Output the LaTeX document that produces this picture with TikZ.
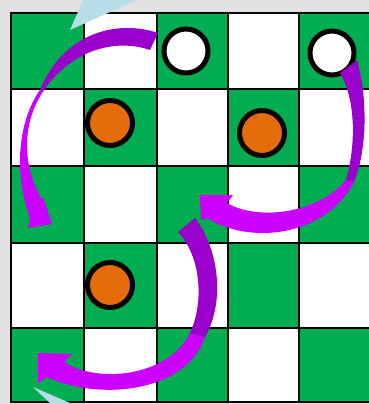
\documentclass[tikz,border=0pt]{standalone}
\definecolor{bg}{RGB}{226,226,226}
\definecolor{sqgreen}{RGB}{0,173,80}
\definecolor{pieceorange}{RGB}{228,108,10}
\definecolor{arrowdark}{RGB}{153,0,204}
\definecolor{arrowbright}{RGB}{204,0,255}
\definecolor{hintblue}{RGB}{183,222,232}
\begin{document}
\begin{tikzpicture}[x=1pt,y=-1pt,
  gridline/.style={line width=2.6pt, black},
  piece/.style={circle, draw=black, line width=5pt, minimum size=44pt, inner sep=0pt},
  whitepiece/.style={piece, fill=white},
  orangepiece/.style={piece, fill=pieceorange, minimum size=45pt},
  darkpart/.style={fill=arrowdark},
  brightpart/.style={fill=arrowbright},
  hint/.style={fill=hintblue}]
\useasboundingbox (0,0) rectangle (369,404);
\fill[bg] (0,0) rectangle (369,404);
% board
\fill[white] (11,13) rectangle (372,402);
\foreach \xa/\xb/\ya/\yb in {
  11/84/13/89, 157/228/13/89, 299/372/13/89,
  84/157/89/166, 228/299/89/166,
  11/84/166/243, 157/228/166/243, 299/372/166/243,
  84/157/243/328, 228/299/243/328,
  11/84/328/402, 157/228/328/402, 299/372/328/402}
  \fill[sqgreen] (\xa,\ya) rectangle (\xb,\yb);
\foreach \x in {84,157,228,299}
  \draw[gridline] (\x,13) -- (\x,402);
\foreach \y in {89,166,243,328}
  \draw[gridline] (11,\y) -- (372,\y);
\draw[gridline] (11,13) rectangle (372,402);
% pieces
\node[whitepiece] (w1) at (186,51) {};
\node[whitepiece] (w2) at (332,53) {};
\node[orangepiece] (o1) at (110,123) {};
\node[orangepiece] (o2) at (262,133) {};
\node[orangepiece] (o3) at (110,285) {};
% light blue hints
\fill[hint] (70,30) -- (84,-2) -- (141,-2) -- cycle;
\fill[hint] (33,387) -- (53,406) -- (77,406) -- cycle;
% arrow 1
\fill[darkpart] (158,33) .. controls (120,20) and (65,30) .. (40,90)
  -- (42,93) .. controls (70,50) and (115,38) .. (150,50) -- cycle;
\fill[brightpart] (40,90) .. controls (20,118) and (12,168) .. (30,218)
  -- (28,228) -- (52,224) -- (43,197) -- (42,200)
  .. controls (22,165) and (22,125) .. (42,93) -- cycle;
% arrow 2
\fill[darkpart] (340,73) -- (357,60) .. controls (368,100) and (367,150) .. (354,182)
  -- (346,180) .. controls (356,145) and (356,100) .. (340,73) -- cycle;
\fill[brightpart] (354,182) .. controls (325,237) and (250,245) .. (207,218)
  -- (201,220) -- (200,195) -- (233,195) -- (227,203)
  .. controls (260,222) and (320,212) .. (346,180) -- cycle;
% arrow 3
\fill[darkpart] (178,232) -- (195,218) .. controls (218,248) and (226,300) .. (205,337)
  -- (190,333) .. controls (205,300) and (200,255) .. (178,232) -- cycle;
\fill[brightpart] (205,337) .. controls (185,395) and (95,400) .. (47,377)
  -- (38,383) -- (38,353) -- (72,354) -- (64,362)
  .. controls (100,385) and (170,375) .. (190,333) -- cycle;
\end{tikzpicture}
\end{document}
